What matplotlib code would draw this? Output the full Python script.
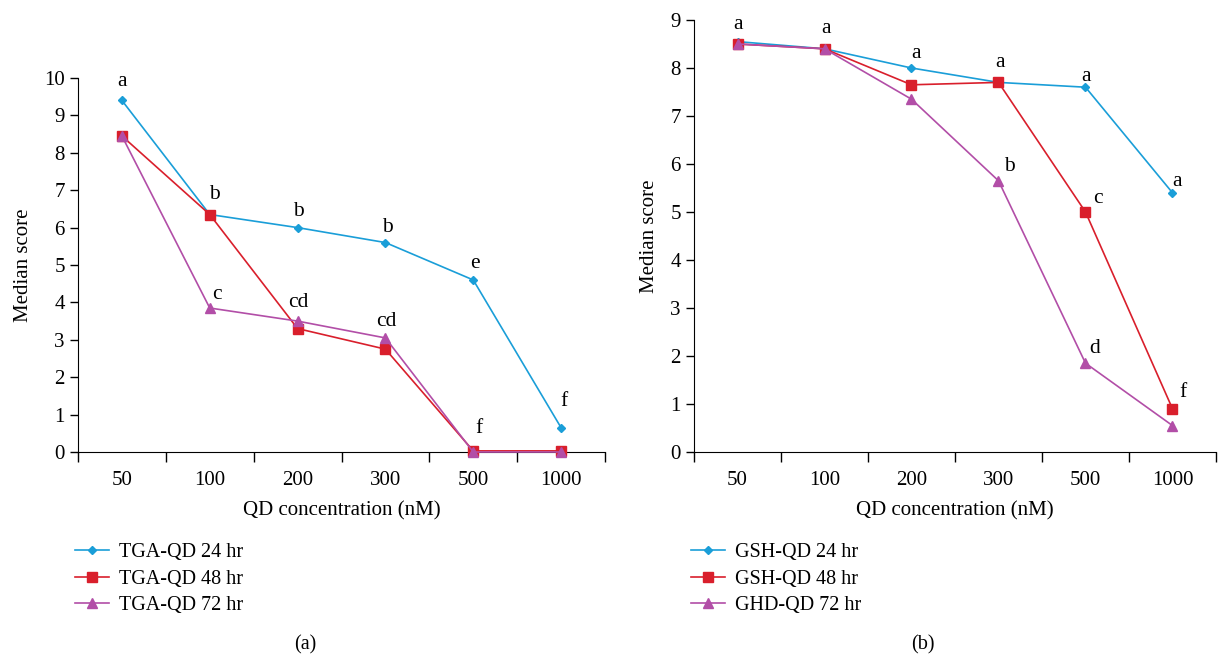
import matplotlib
matplotlib.use("Agg")
import matplotlib.pyplot as plt
from matplotlib.ticker import FixedLocator, NullFormatter, FixedFormatter

plt.rcParams['font.family'] = ['Liberation Serif', 'DejaVu Serif']

concentrations = ["50", "100", "200", "300", "500", "1000"]

# panel (a): TGA-QD
tga_24 = [9.4, 6.35, 6.0, 5.6, 4.6, 0.65]
tga_48 = [8.45, 6.35, 3.3, 2.75, 0.03, 0.03]
tga_72 = [8.45, 3.85, 3.5, 3.05, 0.0, 0.0]
tga_labels = ["TGA-QD 24 hr", "TGA-QD 48 hr", "TGA-QD 72 hr"]
# significance letters: (category index, y centre, text)
tga_letters = [(0, 9.9, "a"), (1, 6.88, "b"), (2, 6.44, "b"), (3, 6.0, "b"),
               (4, 5.05, "e"), (5, 1.35, "f"), (4, 0.64, "f"),
               (1, 4.22, "c"), (2, 3.99, "cd"), (3, 3.48, "cd")]
tga_letter_dx = [0.0, 0.05, 0.01, 0.02, 0.02, 0.03, 0.06, 0.08, 0.01, 0.01]

# panel (b): GSH-QD
gsh_24 = [8.55, 8.4, 8.0, 7.7, 7.6, 5.4]
gsh_48 = [8.5, 8.4, 7.65, 7.7, 5.0, 0.9]
gsh_72 = [8.5, 8.4, 7.35, 5.65, 1.85, 0.55]
gsh_labels = ["GSH-QD 24 hr", "GSH-QD 48 hr", "GHD-QD 72 hr"]
gsh_letters = [(0, 8.91, "a"), (1, 8.82, "a"), (2, 8.3, "a"), (3, 8.11, "a"),
               (4, 7.83, "a"), (5, 5.63, "a"), (3, 5.95, "b"), (4, 5.28, "c"),
               (4, 2.15, "d"), (5, 1.24, "f")]
gsh_letter_dx = [0.0, 0.02, 0.05, 0.02, 0.01, 0.05, 0.13, 0.14, 0.1, 0.12]

colors = ["#1a9ed8", "#d91f2c", "#b24ea7"]
markers = ["D", "s", "^"]
msizes = [4, 6.5, 6.5]


def draw_panel(ax, series, labels, letters, letter_dx, ymax, legend_x, caption, caption_x):
    x = list(range(len(concentrations)))
    handles = []
    for vals, c, m, ms, lab in zip(series, colors, markers, msizes, labels):
        h, = ax.plot(x, vals, color=c, marker=m, markersize=ms, linewidth=1.2,
                     label=lab, clip_on=False, zorder=3)
        handles.append(h)
    for (i, yv, t), dx in zip(letters, letter_dx):
        ax.text(i + dx, yv, t, fontsize=15.5, ha="center", va="center")

    ax.set_xlim(-0.5, len(concentrations) - 0.5)
    ax.set_ylim(0, ymax)
    ax.spines["top"].set_visible(False)
    ax.spines["right"].set_visible(False)
    ax.xaxis.set_major_locator(FixedLocator([i - 0.5 for i in range(len(concentrations) + 1)]))
    ax.xaxis.set_major_formatter(NullFormatter())
    ax.xaxis.set_minor_locator(FixedLocator(x))
    ax.xaxis.set_minor_formatter(FixedFormatter(concentrations))
    ax.tick_params(axis="x", which="major", direction="out", length=7, width=1)
    ax.tick_params(axis="x", which="minor", length=0, pad=14, labelsize=15)
    ax.tick_params(axis="y", direction="out", length=6, width=1, labelsize=15)
    ax.set_yticks(range(0, ymax + 1))
    ax.set_xlabel("QD concentration (nM)", fontsize=15, labelpad=8)
    ax.set_ylabel("Median score", fontsize=15, labelpad=8)

    fig.legend(handles=handles, loc="upper left",
               bbox_to_anchor=(legend_x, 1 - 535 / 658), frameon=False,
               fontsize=14.5, handlelength=1.7, labelspacing=0.37,
               handletextpad=0.5, borderaxespad=0)
    fig.text(caption_x, 1 - 645 / 658, caption, fontsize=14.5, ha="center", va="center")


fig = plt.figure(figsize=(12.18, 6.58), dpi=100)
ax1 = fig.add_axes([78 / 1218, 1 - 452 / 658, (605 - 78) / 1218, (452 - 78) / 658])
ax2 = fig.add_axes([694 / 1218, 1 - 452 / 658, (1216 - 694) / 1218, (452 - 20) / 658])

draw_panel(ax1, [tga_24, tga_48, tga_72], tga_labels, tga_letters, tga_letter_dx, 10,
           67 / 1218, "(a)", 305 / 1218)
draw_panel(ax2, [gsh_24, gsh_48, gsh_72], gsh_labels, gsh_letters, gsh_letter_dx, 9,
           683 / 1218, "(b)", 923 / 1218)

fig.savefig("out.png", dpi=100)
